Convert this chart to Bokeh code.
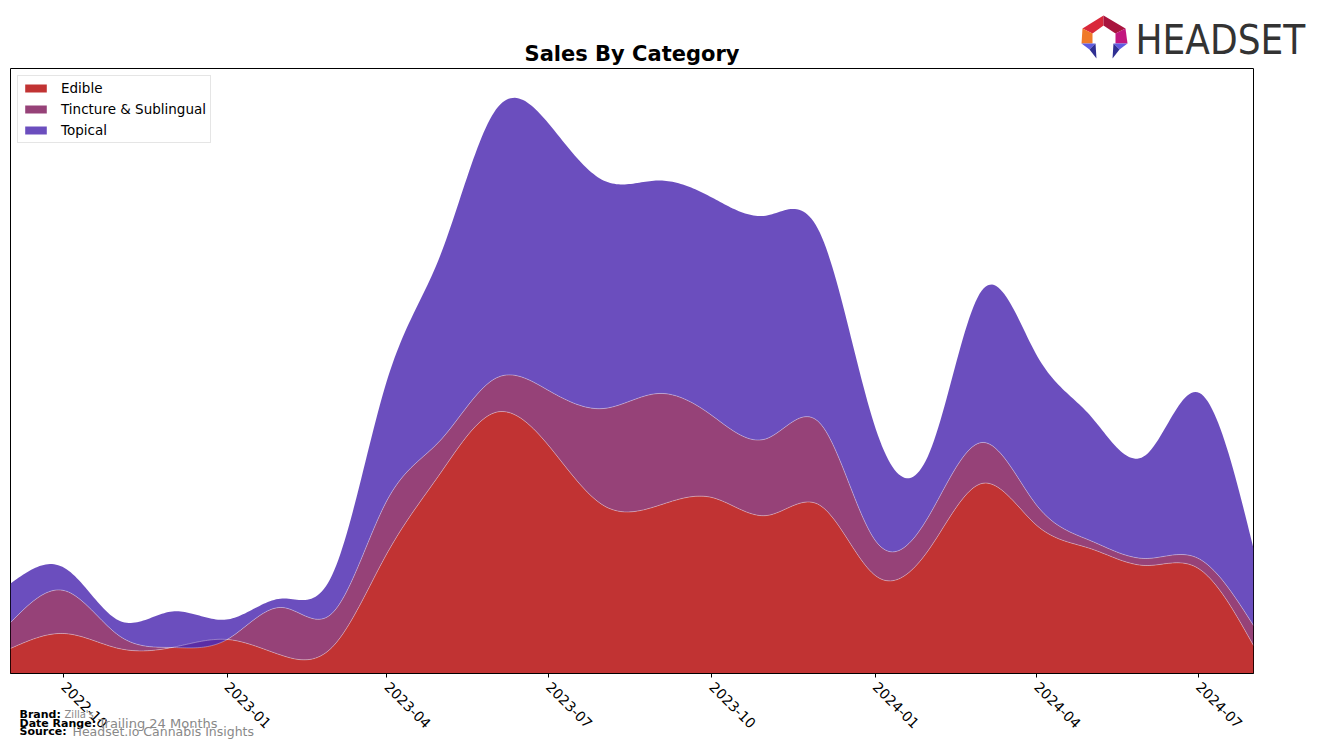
import numpy as np
import pandas as pd
from bokeh.plotting import figure
from bokeh.layouts import column
from bokeh.models import (Range1d, FixedTicker, DatetimeTickFormatter,
                          Legend, LegendItem)
from bokeh.core.properties import value
from bokeh.embed import file_html
from bokeh.resources import INLINE

# ---------------- data (monthly) ----------------
months = ["2022-09", "2022-10", "2022-11", "2022-12", "2023-01", "2023-02",
          "2023-03", "2023-04", "2023-05", "2023-06", "2023-07", "2023-08",
          "2023-09", "2023-10", "2023-11", "2023-12", "2024-01", "2024-02",
          "2024-03", "2024-04", "2024-05", "2024-06", "2024-07", "2024-08"]
edible = [25, 40, 25, 26, 34, 18, 26, 120, 200, 261, 228, 168,
          168, 176, 158, 168, 98, 126, 190, 148, 125, 108, 105, 28]
tincture = [26, 43, 13, 0, 0, 48, 34, 53, 33, 34, 55, 97,
            112, 82, 77, 82, 35, 34, 41, 20, 8, 7, 10, 20]
topical = [39, 23, 15, 36, 20, 9, 38, 120, 185, 268, 267, 228,
           213, 218, 223, 190, 113, 63, 152, 150, 125, 103, 166, 77]
categories = ["Edible", "Tincture & Sublingual", "Topical"]
colors = ["#b60f0f", "#842160", "#512fb3"]
tick_labels = ["2022-10", "2023-01", "2023-04", "2023-07",
               "2023-10", "2024-01", "2024-04", "2024-07"]
y_max = 605

footer_labels = ["Brand:", "Date Range:", "Source:"]
footer_values = ["Zilla's", "Trailing 24 Months", "Headset.io Cannabis Insights"]

W, H = 1317, 748

# ---------------- smoothing for display (natural cubic spline) ----------------
def spline(x, y, xs):
    x = np.asarray(x, float); y = np.asarray(y, float)
    n = len(x); h = np.diff(x)
    A = np.zeros((n, n)); b = np.zeros(n)
    A[0, 0] = 1; A[-1, -1] = 1
    for i in range(1, n - 1):
        A[i, i - 1] = h[i - 1]; A[i, i] = 2 * (h[i - 1] + h[i]); A[i, i + 1] = h[i]
        b[i] = 6 * ((y[i + 1] - y[i]) / h[i] - (y[i] - y[i - 1]) / h[i - 1])
    M = np.linalg.solve(A, b)
    idx = np.clip(np.searchsorted(x, xs) - 1, 0, n - 2)
    x0 = x[idx]; x1 = x[idx + 1]; hh = x1 - x0
    t0 = xs - x0; t1 = x1 - xs
    return (M[idx] * t1 ** 3 / (6 * hh) + M[idx + 1] * t0 ** 3 / (6 * hh)
            + (y[idx] / hh - M[idx] * hh / 6) * t1
            + (y[idx + 1] / hh - M[idx + 1] * hh / 6) * t0)

dates = pd.to_datetime(months)
ms = (dates.astype("int64") // 10**6).to_numpy().astype(float)
days = ms / 86400000.0
xs_days = np.linspace(days[0], days[-1], 600)
xs_ms = xs_days * 86400000.0

e_s = spline(days, edible, xs_days)
t_s = spline(days, tincture, xs_days)
p_s = spline(days, topical, xs_days)
b1 = e_s
b2 = e_s + t_s
b3 = b2 + p_s

tick_ms = [float(pd.Timestamp(t + "-01").value // 10**6) for t in tick_labels]

# ---------------- main figure ----------------
p = figure(width=W, height=H, output_backend="svg", toolbar_location=None,
           x_axis_type="datetime",
           x_range=Range1d(ms[0], ms[-1]), y_range=Range1d(0, y_max),
           min_border_left=10, min_border_right=64, min_border_top=68,
           min_border_bottom=75)
p.frame_align = False
p.background_fill_color = "white"
p.border_fill_color = "white"
p.outline_line_color = "black"
p.outline_line_width = 1
p.xgrid.visible = False
p.ygrid.visible = False
p.yaxis.visible = False

p.title.text = "Sales By Category"
p.title.align = "center"
p.title.text_font = "DejaVu Sans"
p.title.text_font_size = "21px"
p.title.text_font_style = "bold"
p.title.text_color = "black"
p.title.standoff = 5

r1 = p.varea(x=xs_ms, y1=np.zeros_like(b1), y2=b1, fill_color=colors[0], fill_alpha=0.85)
r2 = p.varea(x=xs_ms, y1=b1, y2=b2, fill_color=colors[1], fill_alpha=0.85)
r3 = p.varea(x=xs_ms, y1=b2, y2=b3, fill_color=colors[2], fill_alpha=0.85)
p.line(xs_ms, b1, line_color="white", line_alpha=0.35, line_width=1)
p.line(xs_ms, b2, line_color="white", line_alpha=0.35, line_width=1)

legend = Legend(items=[LegendItem(label=categories[0], renderers=[r1]),
                       LegendItem(label=categories[1], renderers=[r2]),
                       LegendItem(label=categories[2], renderers=[r3])],
                location="top_left")
legend.label_text_font = "DejaVu Sans"
legend.label_text_font_size = "13.5px"
legend.label_text_color = "black"
legend.glyph_width = 27
legend.glyph_height = 10
legend.label_height = 16
legend.spacing = 5
legend.padding = 4
legend.margin = 7
legend.label_standoff = 12
legend.border_line_color = "#cccccc"
legend.border_line_width = 1
legend.background_fill_alpha = 0.8
p.add_layout(legend)

ax = p.xaxis[0]
ax.ticker = FixedTicker(ticks=tick_ms)
fmt = "%Y-%m"
ax.formatter = DatetimeTickFormatter(years=fmt, months=fmt, days=fmt, hours=fmt,
                                     minutes=fmt, seconds=fmt, milliseconds=fmt,
                                     microseconds=fmt, minsec=fmt, hourmin=fmt)
ax.major_label_orientation = -np.pi / 4
ax.major_label_text_font = "DejaVu Sans"
ax.major_label_text_font_size = "14px"
ax.major_label_text_color = "black"
ax.major_label_standoff = 7
ax.major_tick_in = 0
ax.major_tick_out = 4
ax.minor_tick_in = 0
ax.minor_tick_out = 0
ax.axis_line_color = "black"
ax.major_tick_line_color = "black"

# ---------------- transparent overlay for footer and logo ----------------
ov = figure(width=W, height=H, output_backend="svg", toolbar_location=None,
            x_range=Range1d(0, W), y_range=Range1d(H, 0),
            min_border_left=0, min_border_right=0, min_border_top=0,
            min_border_bottom=0, margin=(-H, 0, 0, 0))
ov.frame_align = False
ov.axis.visible = False
ov.xgrid.visible = False
ov.ygrid.visible = False
ov.outline_line_color = None
ov.background_fill_color = None
ov.border_fill_color = None

# footer: bold labels + grey values
ov.text(x=[19, 19, 19], y=[714, 723, 731], text=footer_labels,
        text_font=value("DejaVu Sans"), text_font_size="11px",
        text_font_style="bold", text_color="black", text_baseline="middle")
ov.text(x=[64, 98, 72], y=[714, 723, 731], text=footer_values,
        text_font=value("DejaVu Sans"), text_font_size=["10px", "13px", "12.5px"],
        text_color="#888888", text_baseline="middle")

# HEADSET wordmark
ov.text(x=[1135], y=[39], text=["HEADSET"],
        text_font=value("'DejaVu Sans Condensed', 'Roboto Condensed', 'Liberation Sans Narrow', Roboto, sans-serif"),
        text_font_size="40px", text_color="#333333", text_baseline="middle")

# logo icon facets (screen pixels)
facets_x = [[1082, 1103, 1103, 1092],
            [1103, 1125, 1115, 1103],
            [1125, 1127, 1115, 1115],
            [1082, 1092, 1092, 1081],
            [1081, 1095, 1089],
            [1089, 1095, 1096],
            [1113, 1127, 1119],
            [1113, 1119, 1112]]
facets_y = [[28, 15, 25, 33],
            [15, 28, 33, 25],
            [28, 43, 43, 33],
            [28, 33, 43, 43],
            [43, 43, 49],
            [49, 43, 58],
            [43, 43, 49],
            [43, 49, 58]]
facet_colors = ["#d9283a", "#a8143e", "#c2177f", "#f07a28",
                "#5f5ce2", "#2f2f92", "#5f5ce2", "#2f2f92"]
ov.patches(xs=facets_x, ys=facets_y, fill_color=facet_colors, line_color=None)

root = column(p, ov, spacing=0)
open("out.html", "w").write(file_html(root, INLINE))
